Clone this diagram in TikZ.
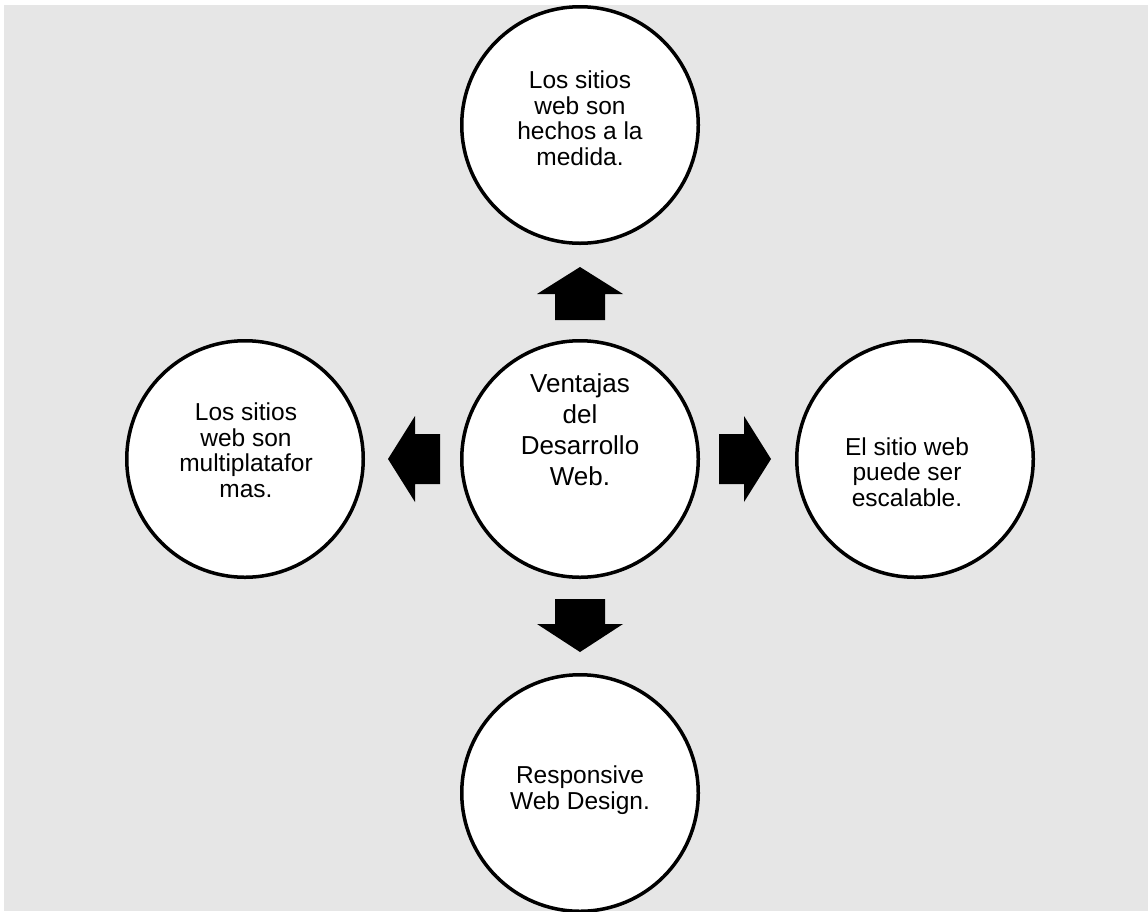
\documentclass[tikz,border=0pt]{standalone}
\usepackage{fontspec}
\setmainfont{Liberation Sans}
\begin{document}
\begin{tikzpicture}[x=1pt,y=-1pt,
  bubble/.style={circle,draw=black,line width=3.5pt,fill=white,minimum size=236.5pt,inner sep=0pt},
  smalltxt/.style={align=center,font=\fontsize{24.5}{25.5}\selectfont,inner sep=0pt},
  bigtxt/.style={align=center,font=\fontsize{26}{31}\selectfont,inner sep=0pt},
  blockarrow/.style={fill=black,draw=none}]
\useasboundingbox (0,0) rectangle (1148,911);
\fill[white] (0,0) rectangle (1148,911);
\fill[fill={rgb,255:red,230;green,230;blue,230}] (4,5) rectangle (1148,911);
\begin{scope}
\clip (4,5) rectangle (1148,911);
\node[bubble] (top) at (580,125) {};
\node[bubble] (ctr) at (580,459) {};
\node[bubble] (lft) at (245,459) {};
\node[bubble] (rgt) at (915,459) {};
\node[bubble] (bot) at (580,793) {};
\end{scope}
\node[smalltxt] (ttop) at (580,118) {Los sitios\\web son\\hechos a la\\medida.};
\node[bigtxt] (tctr) at (580,430) {Ventajas\\del\\Desarrollo\\Web.};
\node[smalltxt] (tlft) at (246,450) {Los sitios\\web son\\multiplatafor\\mas.};
\node[smalltxt] (trgt) at (907,472) {El sitio web\\puede ser\\escalable.};
\node[smalltxt] (tbot) at (580,790) {Responsive\\Web Design.};
% block arrows
\fill[blockarrow] (580,267) -- (623,294) -- (605,294) -- (605,320) -- (555,320) -- (555,294) -- (537,294) -- cycle;
\fill[blockarrow] (555,599) -- (605,599) -- (605,624) -- (623,624) -- (580,652) -- (537,624) -- (555,624) -- cycle;
\fill[blockarrow] (388,459) -- (415,416) -- (415,434) -- (440,434) -- (440,484) -- (415,484) -- (415,502) -- cycle;
\fill[blockarrow] (719,434) -- (744,434) -- (744,416) -- (771,459) -- (744,502) -- (744,484) -- (719,484) -- cycle;
\end{tikzpicture}
\end{document}
